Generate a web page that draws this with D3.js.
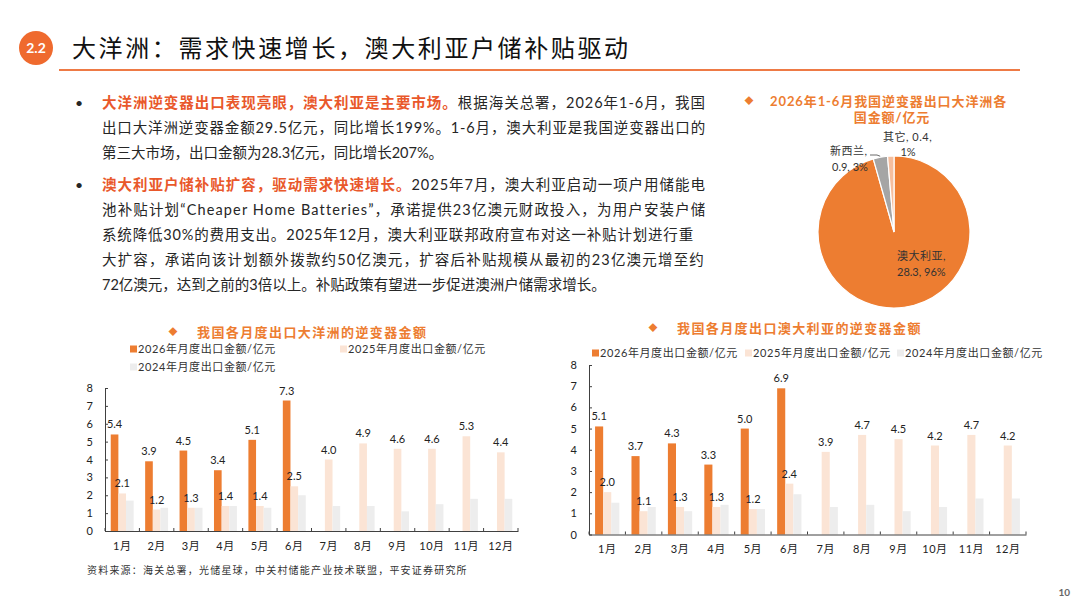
<!DOCTYPE html>
<html>
<head>
<meta charset="utf-8">
<script src="https://cdn.jsdelivr.net/npm/d3@7"></script>
<style>
  html, body { margin: 0; padding: 0; background: #fff; }
  svg { display: block; }
  text { font-family: "Lato", "Noto Sans CJK SC", sans-serif; }
  .cjk { font-family: "Noto Sans CJK SC", sans-serif; }
</style>
</head>
<body>
<div id="page"></div>
<script>
// ---- data ----
const months = ["1月", "2月", "3月", "4月", "5月", "6月", "7月", "8月", "9月", "10月", "11月", "12月"];
const seriesNames = ["2026年月度出口金额/亿元", "2025年月度出口金额/亿元", "2024年月度出口金额/亿元"];

const oceania2026 = [5.4, 3.9, 4.5, 3.4, 5.1, 7.3];
const oceania2025 = [2.1, 1.2, 1.3, 1.4, 1.4, 2.5, 4.0, 4.9, 4.6, 4.6, 5.3, 4.4];
const oceania2024 = [1.7, 1.3, 1.3, 1.4, 1.3, 2.0, 1.4, 1.4, 1.1, 1.5, 1.8, 1.8];

const australia2026 = [5.1, 3.7, 4.3, 3.3, 5.0, 6.9];
const australia2025 = [2.0, 1.1, 1.3, 1.3, 1.2, 2.4, 3.9, 4.7, 4.5, 4.2, 4.7, 4.2];
const australia2024 = [1.5, 1.3, 1.1, 1.4, 1.2, 1.9, 1.3, 1.4, 1.1, 1.3, 1.7, 1.7];

const yTicks = [0, 1, 2, 3, 4, 5, 6, 7, 8];

const pieNames = ["澳大利亚", "新西兰", "其它"];
const pieValues = [28.3, 0.9, 0.4];
const piePct = ["96%", "3%", "1%"];

const orange = "#ED7D31";
const peach = "#FBE4D5";
const lightGray = "#EDEDED";
const red = "#E9582B";
const textColor = "#262626";
const seriesColors = [orange, peach, lightGray];

const svg = d3.select("#page")
              .append("svg")
              .attr("width", 1080)
              .attr("height", 608);

// ---- header ----
svg.append("circle")
   .attr("cx", 36).attr("cy", 48).attr("r", 17)
   .attr("fill", "#EF6A2E");
svg.append("text")
   .attr("x", 36).attr("y", 53)
   .attr("text-anchor", "middle")
   .attr("fill", "#fff")
   .style("font-size", "14px")
   .style("font-weight", 700)
   .text("2.2");
svg.append("text")
   .attr("class", "cjk")
   .attr("x", 72).attr("y", 57)
   .attr("fill", "#111")
   .style("font-size", "24px")
   .style("letter-spacing", "2.6px")
   .text("大洋洲：需求快速增长，澳大利亚户储补贴驱动");
svg.append("line")
   .attr("x1", 59).attr("x2", 1020)
   .attr("y1", 70).attr("y2", 70)
   .attr("stroke", "#EE7A45")
   .attr("stroke-width", 2);

// ---- bullet text ----
const paragraphs = [
  [
    [["大洋洲逆变器出口表现亮眼，澳大利亚是主要市场。", true], ["根据海关总署，2026年1-6月，我国", false]],
    [["出口大洋洲逆变器金额29.5亿元，同比增长199%。1-6月，澳大利亚是我国逆变器出口的", false]],
    [["第三大市场，出口金额为28.3亿元，同比增长207%。", false]]
  ],
  [
    [["澳大利亚户储补贴扩容，驱动需求快速增长。", true], ["2025年7月，澳大利亚启动一项户用储能电", false]],
    [["池补贴计划“Cheaper Home Batteries”，承诺提供23亿澳元财政投入，为用户安装户储", false]],
    [["系统降低30%的费用支出。2025年12月，澳大利亚联邦政府宣布对这一补贴计划进行重", false]],
    [["大扩容，承诺向该计划额外拨款约50亿澳元，扩容后补贴规模从最初的23亿澳元增至约", false]],
    [["72亿澳元，达到之前的3倍以上。补贴政策有望进一步促进澳洲户储需求增长。", false]]
  ]
];
const paraTop = [108, 190];
const lineGap = 25;
const lineRight = [[706, 706, null], [706, 706, 694, 705, null]];

paragraphs.forEach((para, pi) => {
    svg.append("text")
       .attr("x", 75).attr("y", paraTop[pi])
       .attr("fill", textColor)
       .style("font-size", "14px")
       .text("•");
    para.forEach((line, li) => {
        const t = svg.append("text")
                     .attr("x", 102)
                     .attr("y", paraTop[pi] + li * lineGap)
                     .attr("fill", textColor)
                     .style("font-size", "14.5px");
        line.forEach(([s, hi]) => {
            t.append("tspan")
             .attr("fill", hi ? red : textColor)
             .style("font-weight", hi ? 700 : 400)
             .text(s);
        });
        const right = lineRight[pi][li];
        if (right) {
            const len = t.node().getComputedTextLength();
            const n = line.map(d => d[0]).join("").length;
            t.style("letter-spacing", ((right - 102 - len) / n) + "px");
        }
    });
});

// ---- pie chart ----
const pieTitle = svg.append("g").attr("fill", orange)
                    .style("font-size", "13px").style("font-weight", 700);
pieTitle.append("text").attr("x", 749).attr("y", 104).attr("text-anchor", "middle")
        .style("font-size", "9px").text("◆");
pieTitle.append("text").attr("x", 770).attr("y", 105.5)
        .style("letter-spacing", "0.9px")
        .text("2026年1-6月我国逆变器出口大洋洲各");
pieTitle.append("text").attr("x", 892).attr("y", 121.5).attr("text-anchor", "middle")
        .style("letter-spacing", "0.9px")
        .text("国金额/亿元");

const pieColors = [orange, "#A5A5A5", "#F5BE9E"];
const pieG = svg.append("g").attr("transform", "translate(894, 232)");
const arcs = d3.pie().sort(null).value(d => d)(pieValues);
pieG.selectAll("path")
    .data(arcs)
    .join("path")
    .attr("d", d3.arc().innerRadius(0).outerRadius(76))
    .attr("fill", (_, i) => pieColors[i])
    .attr("stroke", "#fff")
    .attr("stroke-width", 1.2);

const pieLabel = svg.append("g").attr("fill", "#333").style("font-size", "11px");
const pieLabelPos = [[897, 260, 897, 276, "start"], [830, 155, 832, 171, "start"], [883, 141, 908, 156, null]];
pieNames.forEach((name, i) => {
    const [x1, y1, x2, y2, anchor] = pieLabelPos[i];
    const first = i === 2 ? `${name}, ${pieValues[i]},` : `${name},`;
    const second = i === 2 ? piePct[i] : `${pieValues[i]}, ${piePct[i]}`;
    pieLabel.append("text").attr("x", x1).attr("y", y1).style("letter-spacing", "0.5px").text(first);
    pieLabel.append("text").attr("x", x2).attr("y", y2)
            .attr("text-anchor", anchor ? anchor : "middle").text(second);
});
// leader line for 新西兰
const nz = arcs[1];
const nzMid = (nz.startAngle + nz.endAngle) / 2;
svg.append("polyline")
   .attr("points", `870,155 877,155 ${894 + 77 * Math.sin(nzMid)},${232 - 77 * Math.cos(nzMid)}`)
   .attr("fill", "none")
   .attr("stroke", "#444")
   .attr("stroke-width", 0.8);

// ---- bar charts ----
function drawBarChart(cfg) {
    const g = svg.append("g");

    // title
    g.append("text").attr("x", cfg.titleX - 24).attr("y", cfg.titleY + 3)
     .attr("text-anchor", "middle").attr("fill", orange)
     .style("font-size", "9px").text("◆");
    g.append("text").attr("x", cfg.titleX).attr("y", cfg.titleY + 5)
     .attr("fill", orange)
     .style("font-size", "13px").style("font-weight", 700)
     .style("letter-spacing", "1.4px")
     .text(cfg.title);

    // legend
    cfg.legend.forEach(([lx, ly], i) => {
        g.append("rect").attr("x", lx).attr("y", ly - 3.5)
         .attr("width", 7).attr("height", 7).attr("fill", seriesColors[i]);
        g.append("text").attr("x", lx + 8).attr("y", ly + 4)
         .attr("fill", "#333")
         .style("font-size", "11px").style("letter-spacing", "0.6px")
         .text(seriesNames[i]);
    });

    const xScale = d3.scaleBand().domain(months).range([cfg.x0, cfg.x1]).padding(0);
    const xSub = d3.scaleBand().domain([0, 1, 2]).range([0, xScale.bandwidth()])
                   .paddingInner(0).paddingOuter(0.75);
    const yScale = d3.scaleLinear().domain([0, 8]).range([cfg.y0, cfg.y8]);

    // y axis
    g.append("g")
     .attr("transform", `translate(${cfg.x0}, 0)`)
     .call(d3.axisLeft(yScale).tickValues(yTicks).tickSizeInner(-3).tickSizeOuter(0)
             .tickPadding(12).tickFormat(d3.format("d")))
     .call(a => {
         a.selectAll("line, path").attr("stroke", "#404040");
         a.selectAll("text").attr("fill", "#222").style("font-size", "11px")
          .style("font-family", "Lato, sans-serif");
     });

    // bars
    const series = cfg.values;
    series.forEach((vals, si) => {
        g.append("g")
         .selectAll("rect")
         .data(vals)
         .join("rect")
         .attr("x", (_, i) => xScale(months[i]) + xSub(si))
         .attr("y", d => yScale(d))
         .attr("width", xSub.bandwidth())
         .attr("height", d => cfg.y0 - yScale(d))
         .attr("fill", seriesColors[si]);
    });

    // value labels (2026 and 2025)
    [0, 1].forEach(si => {
        g.append("g")
         .selectAll("text")
         .data(series[si])
         .join("text")
         .attr("x", (_, i) => xScale(months[i]) + xSub(si) + xSub.bandwidth() / 2)
         .attr("y", d => yScale(d) - 6)
         .attr("text-anchor", "middle")
         .attr("fill", "#222")
         .style("font-size", "11px")
         .text(d => d.toFixed(1));
    });

    // x axis
    g.append("g")
     .attr("transform", `translate(0, ${cfg.y0})`)
     .call(d3.axisBottom(xScale).tickSize(0).tickPadding(11))
     .call(a => {
         a.select(".domain").attr("stroke", "#404040");
         a.selectAll("text").attr("fill", "#222").style("font-size", "11px")
          .style("letter-spacing", "0.5px");
     });
    g.append("g")
     .selectAll("line")
     .data(months.concat(["end"]))
     .join("line")
     .attr("x1", d => d === "end" ? cfg.x1 : xScale(d))
     .attr("x2", d => d === "end" ? cfg.x1 : xScale(d))
     .attr("y1", cfg.y0).attr("y2", cfg.y0 - 3)
     .attr("stroke", "#404040");
}

drawBarChart({
    title: "我国各月度出口大洋洲的逆变器金额",
    titleX: 197, titleY: 332,
    legend: [[130, 349], [340, 349], [130, 367]],
    x0: 105, x1: 518, y0: 531, y8: 388,
    values: [oceania2026, oceania2025, oceania2024]
});

drawBarChart({
    title: "我国各月度出口澳大利亚的逆变器金额",
    titleX: 677, titleY: 328,
    legend: [[592, 353], [745, 353], [897, 353]],
    x0: 589, x1: 1026, y0: 534.5, y8: 365,
    values: [australia2026, australia2025, australia2024]
});

// ---- footer ----
svg.append("text")
   .attr("class", "cjk")
   .attr("x", 87).attr("y", 574)
   .attr("fill", "#333")
   .style("font-size", "10px")
   .style("letter-spacing", "1.2px")
   .text("资料来源：海关总署，光储星球，中关村储能产业技术联盟，平安证券研究所");
svg.append("text")
   .attr("x", 1070).attr("y", 596)
   .attr("text-anchor", "end")
   .attr("fill", "#666")
   .style("font-size", "10px")
   .style("font-weight", 700)
   .text("10");
</script>
</body>
</html>
